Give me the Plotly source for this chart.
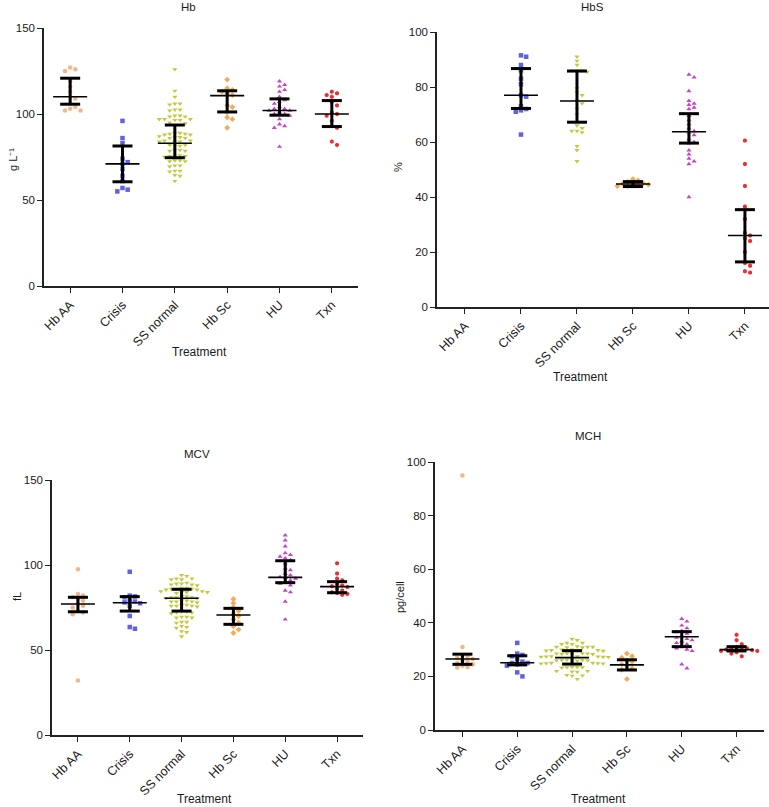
import plotly.graph_objects as go

categories = ["Hb AA", "Crisis", "SS normal", "Hb Sc", "HU", "Txn"]
colors = ["#F4AE7E", "#4F4FE6", "#BCC625", "#F2A246", "#BF2FBF", "#E41A1C"]
symbols = ["circle", "square", "triangle-down", "diamond", "triangle-up", "hexagon"]

# ---------------- Hb (g L-1) ----------------
hb_aa = [127, 126, 125, 119, 116, 113, 110, 109, 106, 104, 103, 102, 102]
hb_crisis = [96, 86, 83, 74, 72, 71, 68, 64, 61, 57, 56, 55]
hb_ss = [126, 113.5, 110, 106, 106, 105.5, 102.5, 102.5, 102, 99, 99, 98.5, 98.5,
         97, 97, 97, 96.5, 96.5, 95, 94.5, 89, 89, 88.5, 88.5, 88, 88,
         87, 86.5, 86.5, 86, 86, 84.5, 84.5, 84, 84, 84, 82, 82, 81.5, 81.5,
         79, 79, 78.5, 78.5, 76, 76, 75.5, 75.5, 75, 73, 73, 72.5, 72.5,
         70, 70, 69.5, 67, 67, 66.5, 64.5, 64, 61]
hb_sc = [120, 115, 114, 113, 112, 111, 105, 104, 101, 98, 97, 92]
hb_hu = [119, 117, 116, 114, 113, 110, 108, 107, 106, 104, 103, 103, 102, 102,
         101, 100, 100, 99, 97, 94, 93, 92, 81]
hb_txn = [113, 112, 111, 110, 107, 105, 101, 100, 99, 96, 93, 92, 84, 82]
hb_median = [110, 71, 83, 110.7, 102, 100]
hb_q1 = [105.7, 60.6, 74.6, 101.2, 99.3, 92.7]
hb_q3 = [120.8, 81.4, 93.6, 113.5, 108.8, 107.8]

# ---------------- HbS (%) ----------------
hbs_aa = []
hbs_crisis = [91.5, 91, 88, 86, 83, 81, 77, 76.5, 73, 72, 71.5, 71, 62.7]
hbs_ss = [91, 89.5, 88, 86, 86, 86, 85.5, 79.5, 78, 77, 75, 74, 72, 70, 66, 65,
          64, 64, 63.5, 58.5, 57, 53]
hbs_sc = [46.5, 46, 45.5, 45, 45, 44.8, 44.5, 44.5, 44, 44]
hbs_hu = [84.5, 83.5, 78.5, 75, 74, 73.5, 72.5, 72, 69.5, 68, 66.5, 65, 64, 63.5,
          62.5, 61, 60, 59.5, 57, 55.5, 54, 53, 52, 40]
hbs_txn = [60.5, 52, 44, 36.5, 32, 27, 26, 25, 24, 20, 16, 15, 13, 12.5]
hbs_median = [None, 77.0, 74.9, 44.7, 63.7, 26.0]
hbs_q1 = [None, 72.2, 67.2, 43.8, 59.6, 16.4]
hbs_q3 = [None, 86.7, 85.8, 45.6, 70.3, 35.4]

# ---------------- MCV (fL) ----------------
mcv_aa = [97.5, 83, 82, 81, 80, 79, 77, 76, 75, 73, 72, 71, 32]
mcv_crisis = [96, 82, 81.5, 81, 79, 78.5, 78, 77.5, 76, 70, 63.5, 62.5]
mcv_ss = [94, 93.5, 92, 92, 91.5, 91.5, 89.5, 89, 89, 88.5, 88.5, 88,
          86.5, 86.5, 86, 86, 86, 85.5, 85.5, 84.5, 84.5, 84, 84, 84, 83.5,
          81.5, 81.5, 81, 81, 81, 80.5, 80.5, 79, 79, 78.5, 78.5, 78.5, 78,
          76.5, 76.5, 76, 76, 76, 75.5, 72.5, 72.5, 72, 72, 71.5,
          69.5, 69.5, 69, 69, 66.5, 66.5, 66, 64, 63.5, 63, 61, 60.5, 58]
mcv_sc = [80, 77.5, 75, 73, 71, 70, 68, 66, 64, 62, 60]
mcv_hu = [117.5, 114.5, 111, 107, 106, 105, 104, 103, 101, 98, 97, 95, 94, 93,
          92.5, 92, 91, 90, 89, 88, 85, 84, 78.5, 68]
mcv_txn = [101, 95, 92, 91, 89, 88, 87.5, 87, 86, 85, 84, 83.5, 83, 82.5]
mcv_median = [77.1, 77.8, 80.4, 70.6, 92.7, 87.3]
mcv_q1 = [72.5, 72.9, 72.9, 65.1, 89.6, 83.7]
mcv_q3 = [81.0, 81.4, 85.7, 74.5, 102.5, 90.2]

# ---------------- MCH (pg/cell) ----------------
mch_aa = [95, 31, 28, 27.5, 27, 26.5, 26, 25.5, 25, 24.5, 24, 23.5, 23.3]
mch_crisis = [32.5, 28.5, 28, 27.5, 26.5, 25.5, 25, 25, 24.5, 24, 21.5, 20]
mch_ss = [34, 33.5, 32.5, 32.5, 32, 32, 31.2, 31, 31, 31, 30.8, 30.8,
          30, 30, 29.8, 29.8, 29.6, 29.6, 29.5, 28.6, 28.6, 28.5, 28.5, 28.4, 28.4, 28.3,
          27.5, 27.5, 27.4, 27.4, 27.3, 27.3, 27.2, 26.2, 26.2, 26.1, 26.1, 26, 26, 25.9,
          25, 25, 24.9, 24.9, 24.8, 24.8, 23.5, 23.5, 23.4, 23.4, 23.3,
          22, 22, 21.8, 21.7, 20.5, 20.3, 20.2, 19]
mch_sc = [28.5, 27.5, 27, 26, 25.5, 24.5, 24, 23, 22.5, 19]
mch_hu = [41.5, 40.5, 39, 38, 37, 36.5, 36, 35, 34.5, 34, 33.5, 33, 32.5, 32, 31,
          30.5, 30, 29.5, 24.5, 23]
mch_txn = [35.5, 33.5, 32, 31, 30.5, 30.5, 30, 30, 29.8, 29.5, 29.5, 29, 28.5, 27.5]
mch_median = [26.5, 25.1, 27.0, 24.3, 34.8, 30.0]
mch_q1 = [24.5, 24.3, 24.6, 22.4, 31.1, 29.5]
mch_q3 = [28.3, 27.7, 29.6, 26.2, 36.7, 31.1]

FONT = "Liberation Sans, Arial, sans-serif"
TXT = "#1a1a1a"

panels = [
    dict(groups=[hb_aa, hb_crisis, hb_ss, hb_sc, hb_hu, hb_txn],
         med=hb_median, q1=hb_q1, q3=hb_q3, ymax=150, dtick=50,
         xdom=[44 / 769, 358 / 769], ydom=[1 - 286 / 807, 1 - 28 / 807],
         title="Hb", tpos=(188, 7), ytitle="g L⁻¹", ypos=(13, 160),
         xtpos=(199, 352), xmax=5.5),
    dict(groups=[hbs_aa, hbs_crisis, hbs_ss, hbs_sc, hbs_hu, hbs_txn],
         med=hbs_median, q1=hbs_q1, q3=hbs_q3, ymax=100, dtick=20,
         xdom=[437 / 769, 1.0], ydom=[1 - 307 / 807, 1 - 32 / 807],
         title="HbS", tpos=(592, 7), ytitle="%", ypos=(398, 167),
         xtpos=(580, 377), xmax=5.43),
    dict(groups=[mcv_aa, mcv_crisis, mcv_ss, mcv_sc, mcv_hu, mcv_txn],
         med=mcv_median, q1=mcv_q1, q3=mcv_q3, ymax=150, dtick=50,
         xdom=[52 / 769, 363 / 769], ydom=[1 - 735 / 807, 1 - 480 / 807],
         title="MCV", tpos=(197, 454), ytitle="fL", ypos=(17, 597),
         xtpos=(204, 799), xmax=5.5),
    dict(groups=[mch_aa, mch_crisis, mch_ss, mch_sc, mch_hu, mch_txn],
         med=mch_median, q1=mch_q1, q3=mch_q3, ymax=100, dtick=20,
         xdom=[435 / 769, 764 / 769], ydom=[1 - 730 / 807, 1 - 462 / 807],
         title="MCH", tpos=(588, 436), ytitle="pg/cell", ypos=(400, 597),
         xtpos=(598, 799), xmax=5.5),
]

W, H = 769, 807


def swarm(values, px_per_unit, px_per_cat, msize):
    """Deterministic row-style beeswarm offsets (category units)."""
    order = sorted(range(len(values)), key=lambda i: -values[i])
    placed = []
    offs = [0.0] * len(values)
    step = msize * 1.15
    for i in order:
        ypx = values[i] * px_per_unit
        k = 0
        while True:
            cands = [0.0] if k == 0 else [k * step, -k * step]
            ok_c = None
            for c in cands:
                if all(not (abs(c - px) < step * 0.95 and abs(ypx - py) < msize * 0.9)
                       for px, py in placed):
                    ok_c = c
                    break
            if ok_c is not None:
                placed.append((ok_c, ypx))
                offs[i] = ok_c / px_per_cat
                break
            k += 1
    return offs


fig = go.Figure()
annotations = []
layout_axes = {}
for pi, p in enumerate(panels):
    n = pi + 1
    xa = "x" if n == 1 else f"x{n}"
    ya = "y" if n == 1 else f"y{n}"
    plot_w = (p["xdom"][1] - p["xdom"][0]) * W
    plot_h = (p["ydom"][1] - p["ydom"][0]) * H
    px_per_cat = plot_w / (p["xmax"] + 0.5)
    px_per_unit = plot_h / p["ymax"]
    for gi, vals in enumerate(p["groups"]):
        if not vals:
            continue
        offs = swarm(vals, px_per_unit, px_per_cat, 4.5)
        fig.add_trace(go.Scatter(
            x=[gi + o for o in offs], y=vals, mode="markers",
            marker=dict(color=colors[gi], symbol=symbols[gi], size=4.5,
                        line=dict(width=0)),
            opacity=0.9, xaxis=xa, yaxis=ya, showlegend=False, hoverinfo="y"))
    mx, my, ex, ey = [], [], [], []
    mh = 17 / px_per_cat
    ch = 10 / px_per_cat
    for gi in range(6):
        if p["med"][gi] is None:
            continue
        mx += [gi - mh, gi + mh, None]
        my += [p["med"][gi], p["med"][gi], None]
        ex += [gi, gi, None, gi - ch, gi + ch, None, gi - ch, gi + ch, None]
        ey += [p["q1"][gi], p["q3"][gi], None, p["q1"][gi], p["q1"][gi], None,
               p["q3"][gi], p["q3"][gi], None]
    fig.add_trace(go.Scatter(x=ex, y=ey, mode="lines", line=dict(color="black", width=3),
                             xaxis=xa, yaxis=ya, showlegend=False, hoverinfo="skip"))
    fig.add_trace(go.Scatter(x=mx, y=my, mode="lines", line=dict(color="black", width=1.6),
                             xaxis=xa, yaxis=ya, showlegend=False, hoverinfo="skip"))
    kx = "xaxis" if n == 1 else f"xaxis{n}"
    ky = "yaxis" if n == 1 else f"yaxis{n}"
    layout_axes[kx] = dict(domain=p["xdom"], anchor=ya, range=[-0.5, p["xmax"]],
                           tickmode="array", tickvals=list(range(6)), ticktext=categories,
                           tickangle=-45, showline=True, linecolor="#222", linewidth=1.5,
                           ticks="outside", ticklen=5, tickwidth=1.2, tickcolor="#222",
                           showgrid=False, zeroline=False, automargin=False,
                           tickfont=dict(family=FONT, size=12.5, color=TXT))
    layout_axes[ky] = dict(domain=p["ydom"], anchor=xa, range=[0, p["ymax"]],
                           tickmode="linear", tick0=0, dtick=p["dtick"],
                           showline=True, linecolor="#222", linewidth=1.5,
                           ticks="outside", ticklen=5, tickwidth=1.2, tickcolor="#222",
                           showgrid=False, zeroline=False, automargin=False,
                           tickfont=dict(family=FONT, size=11.5, color=TXT))
    annotations.append(dict(text=p["title"], x=p["tpos"][0] / W, y=1 - p["tpos"][1] / H,
                            xref="paper", yref="paper", showarrow=False,
                            xanchor="center", yanchor="middle",
                            font=dict(family=FONT, size=11.5, color=TXT)))
    annotations.append(dict(text="Treatment", x=p["xtpos"][0] / W, y=1 - p["xtpos"][1] / H,
                            xref="paper", yref="paper", showarrow=False,
                            xanchor="center", yanchor="middle",
                            font=dict(family=FONT, size=12, color=TXT)))
    annotations.append(dict(text=p["ytitle"], x=p["ypos"][0] / W, y=1 - p["ypos"][1] / H,
                            xref="paper", yref="paper", showarrow=False, textangle=-90,
                            xanchor="center", yanchor="middle",
                            font=dict(family=FONT, size=11, color=TXT)))

fig.update_layout(width=W, height=H, margin=dict(l=0, r=0, t=0, b=0),
                  paper_bgcolor="white", plot_bgcolor="white",
                  annotations=annotations, **layout_axes)
fig.write_html("out.html", config={"displayModeBar": False},
               post_script="document.body.style.margin='0';document.body.style.overflow='hidden';")
